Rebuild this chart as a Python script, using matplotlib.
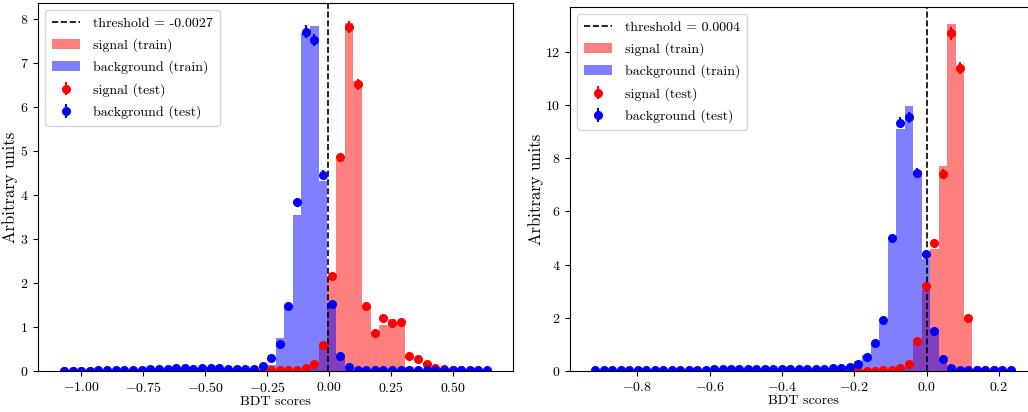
import numpy as np
import matplotlib
matplotlib.use("Agg")
import matplotlib.pyplot as plt

plt.rcParams['font.family'] = 'serif'
plt.rcParams['font.serif'] = ['cmr10']
plt.rcParams['mathtext.fontset'] = 'cm'
plt.rcParams['axes.formatter.use_mathtext'] = True
plt.rcParams['font.size'] = 10

# left panel: 50 bins
left_range = (-1.0878, 0.6556)
left_threshold = -0.0027
left_sig_train = [0.005] * 29 + [0.10, 0.62, 2.08, 4.80, 7.90, 6.58, 1.50, 0.88, 1.05, 1.17, 1.10,
                                 0.10, 0.05, 0.03, 0.02, 0.01, 0.01, 0.01, 0.005, 0.005, 0.005]
left_bkg_train = [0.01, 0.01, 0.01, 0.01, 0.015, 0.02, 0.02, 0.02, 0.025, 0.03, 0.035, 0.05, 0.04,
                  0.06, 0.07, 0.06, 0.065, 0.06, 0.065, 0.055, 0.05, 0.05, 0.05, 0.04,
                  0.14, 0.74, 1.51, 3.54, 7.67, 7.83, 4.31, 1.53, 0.36, 0.10,
                  0.03, 0.02, 0.02, 0.02, 0.02, 0.02, 0.02, 0.02, 0.02, 0.02, 0.02, 0.02, 0.02, 0.02, 0.02, 0.02]
left_sig_test = [0.005] * 22 + [0.01, 0.01, 0.015, 0.02, 0.02, 0.03, 0.06, 0.16, 0.59, 2.15, 4.85, 7.82,
                                6.51, 1.47, 0.86, 1.20, 1.08, 1.11, 0.35, 0.27, 0.16, 0.07, 0.04, 0.03,
                                0.03, 0.01, 0.01, 0.01]
left_bkg_test = [0.01, 0.01, 0.01, 0.01, 0.015, 0.023, 0.015, 0.023, 0.023, 0.03, 0.038, 0.053, 0.038,
                 0.068, 0.076, 0.053, 0.068, 0.061, 0.068, 0.053, 0.053, 0.053, 0.053,
                 0.11, 0.30, 0.61, 1.47, 3.83, 7.71, 7.51, 4.46, 1.52, 0.33, 0.09,
                 0.03, 0.02, 0.02, 0.02, 0.02, 0.02, 0.02, 0.02, 0.02, 0.02, 0.02, 0.02, 0.02, 0.02, 0.02, 0.02]

# right panel: 50 bins
right_range = (-0.9274, 0.2441)
right_threshold = 0.0004
right_sig_train = [0.005] * 35 + [0.02, 0.05, 0.28, 1.06, 3.05, 4.58, 7.70, 13.03, 11.42, 1.96,
                                  0.02, 0.01, 0.01, 0.005, 0.005]
right_bkg_train = [0.02, 0.02, 0.02, 0.02, 0.025, 0.03, 0.03, 0.03, 0.035, 0.035, 0.04, 0.04, 0.045,
                   0.05, 0.07, 0.06, 0.07, 0.08, 0.07, 0.08, 0.08, 0.07, 0.07, 0.08, 0.07, 0.07, 0.08,
                   0.08, 0.10, 0.13, 0.20, 0.36, 0.59, 0.99, 1.80, 4.90, 9.10, 9.95, 7.52, 4.21, 1.59,
                   0.40, 0.10, 0.04, 0.03, 0.02, 0.02, 0.02, 0.02, 0.02]
right_sig_test = [0.005] * 30 + [0.01, 0.01, 0.01, 0.01, 0.02, 0.04, 0.12, 0.28, 1.12, 3.18, 4.82,
                                 7.39, 12.69, 11.39, 2.01, 0.03, 0.02, 0.02, 0.01, 0.01]
right_bkg_test = [0.02, 0.02, 0.02, 0.02, 0.03, 0.03, 0.03, 0.03, 0.04, 0.04, 0.04, 0.04, 0.05,
                  0.05, 0.08, 0.06, 0.07, 0.09, 0.08, 0.08, 0.09, 0.07, 0.08, 0.07, 0.08, 0.06, 0.08,
                  0.09, 0.12, 0.12, 0.15, 0.27, 0.51, 1.06, 1.90, 4.99, 9.34, 9.53, 7.43, 4.40, 1.52,
                  0.45, 0.11, 0.05, 0.03, 0.03, 0.03, 0.03, 0.03, 0.03]


def draw(ax, rng, thr, sig_tr, bkg_tr, sig_te, bkg_te, err_scale):
    edges = np.linspace(rng[0], rng[1], len(sig_tr) + 1)
    centers = 0.5 * (edges[1:] + edges[:-1])
    thr_line = ax.axvline(thr, color='black', ls='--', lw=1.2, label=f'threshold = {thr}')
    _, _, p1 = ax.hist(centers, bins=edges, weights=sig_tr, color='red', alpha=0.5, label='signal (train)')
    _, _, p2 = ax.hist(centers, bins=edges, weights=bkg_tr, color='blue', alpha=0.5, label='background (train)')
    e1 = ax.errorbar(centers, sig_te, yerr=err_scale * np.sqrt(sig_te), fmt='o', color='red',
                     ms=5.5, label='signal (test)')
    e2 = ax.errorbar(centers, bkg_te, yerr=err_scale * np.sqrt(bkg_te), fmt='o', color='blue',
                     ms=5.5, label='background (test)')
    ax.legend(handles=[thr_line, p1[0], p2[0], e1, e2], loc='upper left',
              handletextpad=0.95, labelspacing=0.62, borderpad=0.5)
    ax.set_xlabel('BDT scores', labelpad=0.5)
    ax.set_ylabel('Arbitrary units', fontsize=12, labelpad=1)


fig = plt.figure(figsize=(10.28, 4.12), dpi=100)
ax1 = fig.add_axes([38 / 1028, 41 / 412, 475 / 1028, 368 / 412])
ax2 = fig.add_axes([570 / 1028, 41 / 412, 466 / 1028, 364 / 412])

draw(ax1, left_range, left_threshold, left_sig_train, left_bkg_train, left_sig_test, left_bkg_test, 0.05)
draw(ax2, right_range, right_threshold, right_sig_train, right_bkg_train, right_sig_test, right_bkg_test, 0.07)

fig.savefig('out.png', dpi=100)
